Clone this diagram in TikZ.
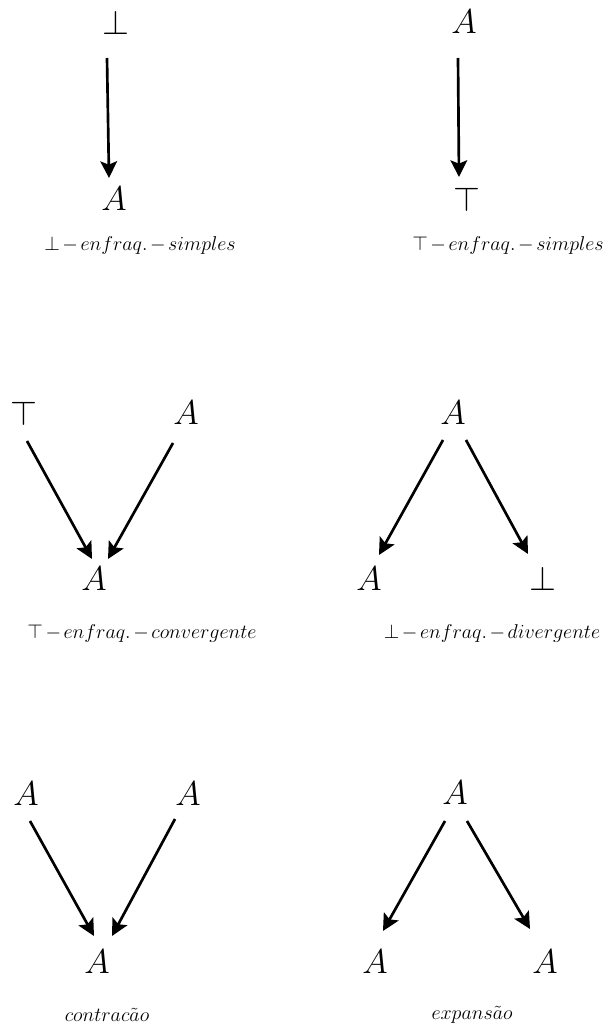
\documentclass[tikz,border=0pt]{standalone}
\usetikzlibrary{arrows.meta,calc}
\newcommand{\mydash}{\mskip2.3mu{-}\mskip2.3mu}
\begin{document}
\begin{tikzpicture}[x=0.6pt,y=-0.6pt,
  big/.style={inner sep=0pt,font=\fontsize{19.5}{22}\selectfont},
  captext/.style={inner sep=0pt,font=\fontsize{13}{15}\selectfont},
  arr/.style={-{Stealth[length=10pt,width=10pt,inset=2pt]},line width=1.6pt}]
\useasboundingbox (0,0) rectangle (613,1028);
% panel 1
\node[big] (n11) at (116,23) {$\bot$};
\node[big] (n12) at (114,199) {$A$};
\node[captext] (c1) at (140,245) {$\bot\mydash enfraq.\mydash simples$};
\draw[arr] ($(n11)+(-9,35)$) -- ($(n12)+(-5,-21)$);
% panel 2
\node[big] (n21) at (464,22) {$A$};
\node[big] (n22) at (467,199) {$\top$};
\node[captext] (c2) at (508,245) {$\top\mydash enfraq.\mydash simples$};
\draw[arr] ($(n21)+(-6,36)$) -- ($(n22)+(-8,-22)$);
% panel 3
\node[big] (n31) at (24,413) {$\top$};
\node[big] (n32) at (186,413) {$A$};
\node[big] (n33) at (94,579) {$A$};
\node[captext] (c3) at (142,633) {$\top\mydash enfraq.\mydash convergente$};
\draw[arr] ($(n31)+(3,28)$) -- ($(n33)+(-2,-20)$);
\draw[arr] ($(n32)+(-13,30)$) -- ($(n33)+(14,-20)$);
% panel 4
\node[big] (n41) at (453,413) {$A$};
\node[big] (n42) at (369,579) {$A$};
\node[big] (n43) at (543,578) {$\bot$};
\node[captext] (c4) at (492,633) {$\bot\mydash enfraq.\mydash divergente$};
\draw[arr] ($(n41)+(-10,27)$) -- ($(n42)+(10,-24)$);
\draw[arr] ($(n41)+(13,27)$) -- ($(n43)+(-15,-24)$);
% panel 5
\node[big] (n51) at (26,794) {$A$};
\node[big] (n52) at (188,794) {$A$};
\node[big] (n53) at (97,962) {$A$};
\node[captext] (c5) at (107,1015) {$contrac\tilde{a}o$};
\draw[arr] ($(n51)+(4,27)$) -- ($(n53)+(-3,-26)$);
\draw[arr] ($(n52)+(-13,25)$) -- ($(n53)+(15,-26)$);
% panel 6
\node[big] (n61) at (455,793) {$A$};
\node[big] (n62) at (375,962) {$A$};
\node[big] (n63) at (545,962) {$A$};
\node[captext] (c6) at (472,1015) {$expans\tilde{a}o$};
\draw[arr] ($(n61)+(-10,28)$) -- ($(n62)+(8,-31)$);
\draw[arr] ($(n61)+(12,28)$) -- ($(n63)+(-15,-33)$);
\end{tikzpicture}
\end{document}
